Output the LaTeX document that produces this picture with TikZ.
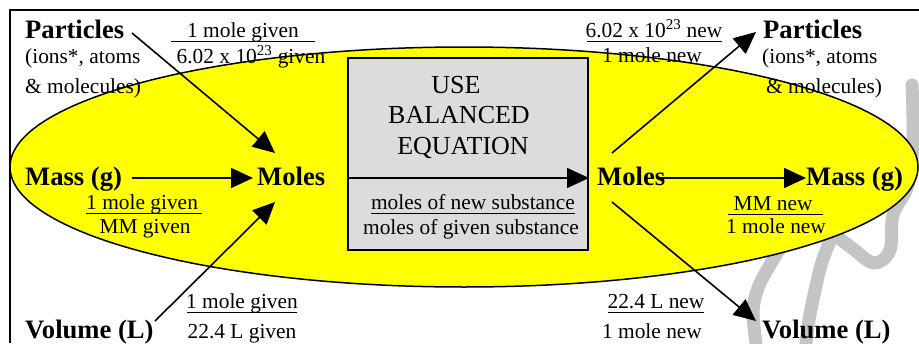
\documentclass[tikz,border=0pt]{standalone}
\usepackage{fontspec}
\setmainfont{Liberation Serif}
\usetikzlibrary{arrows.meta}
\newcommand{\ulbox}[3][c]{\makebox[#2][#1]{#3}\llap{\rule[-5pt]{#2}{1pt}}}
\definecolor{ellyellow}{HTML}{FFFF00}
\definecolor{boxgray}{HTML}{DCDCDC}
\definecolor{scribble}{HTML}{C4C4C4}
\begin{document}
\begin{tikzpicture}[x=1pt,y=-1pt,
  bt/.style={font=\fontsize{26.6}{30}\selectfont\bfseries, inner sep=0pt},
  rt/.style={font=\fontsize{21.4}{24}\selectfont, inner sep=0pt},
  bx/.style={font=\fontsize{26}{30}\selectfont, inner sep=0pt},
  arr/.style={line width=1.6pt, -{Triangle[length=22pt,width=20pt]}},
  scrib/.style={draw=scribble, line width=13pt, line cap=round, line join=round}]
\useasboundingbox (0,0) rectangle (919,343);
% background scribble
\draw[scrib] plot[smooth, tension=0.6] coordinates {(912,85) (913,140) (908,185) (893,215) (890,250) (874,263) (852,248) (836,236)};
\draw[scrib] plot[smooth, tension=0.6] coordinates {(834,232) (822,262) (814,295) (809,320) (806,343)};
\draw[scrib] plot[smooth, tension=0.6] coordinates {(782,245) (770,265) (758,288) (753,312) (756,343)};
% ellipse
\draw[fill=ellyellow, line width=1.5pt] (464,167) ellipse [x radius=454, y radius=120];
% box
\node[draw, fill=boxgray, line width=1.8pt, minimum width=240pt, minimum height=192pt, inner sep=0pt] (box) at (468,154) {};
% border
\draw[line width=2pt] (10,343) -- (10,10) -- (919,10);
% left texts
\node[bt, anchor=base west] (pL) at (25,38) {Particles};
\node[rt, anchor=base west] (pL2) at (25,63) {(ions*, atoms};
\node[rt, anchor=base west] (pL3) at (25,93) {\& molecules)};
\node[rt, anchor=base] (f1a) at (243,37) {\ulbox{144pt}{1 mole given}};
\node[rt, anchor=base] (f1b) at (251,63) {6.02 x 10\textsuperscript{23} given};
\node[bt, anchor=base west] (massL) at (25,185) {Mass (g)};
\node[bt, anchor=base west] (molL) at (257,185) {Moles};
\node[rt, anchor=base west] (f2a) at (86,209) {\ulbox[l]{116pt}{1 mole given}};
\node[rt, anchor=base] (f2b) at (145,233) {MM given};
\node[bt, anchor=base west] (volL) at (25,338) {Volume (L)};
\node[rt, anchor=base] (f3a) at (242,308) {\ulbox{110pt}{1 mole given}};
\node[rt, anchor=base] (f3b) at (242,338) {22.4 L given};
% box texts
\node[bx, anchor=base] (b1) at (456,93) {USE};
\node[bx, anchor=base] (b2) at (459,123) {BALANCED};
\node[bx, anchor=base] (b3) at (463,154) {EQUATION};
\node[rt, anchor=base] (b4) at (473,209) {\ulbox{204pt}{moles of new substance}};
\node[rt, anchor=base] (b5) at (471,234) {moles of given substance};
% right texts
\node[bt, anchor=base west] (molR) at (597,185) {Moles};
\node[bt, anchor=base west] (massR) at (806,185) {Mass (g)};
\node[rt, anchor=base] (f4a) at (775,210) {\ulbox[l]{95pt}{\hspace{6pt}MM new}};
\node[rt, anchor=base] (f4b) at (776,233) {1 mole new};
\node[rt, anchor=base] (f5a) at (654,37) {\ulbox{135pt}{6.02 x 10\textsuperscript{23} new}};
\node[rt, anchor=base] (f5b) at (652,62) {1 mole new};
\node[bt, anchor=base west] (pR) at (763,38) {Particles};
\node[rt, anchor=base west] (pR2) at (762,63) {(ions*, atoms};
\node[rt, anchor=base west] (pR3) at (766,93) {\& molecules)};
\node[rt, anchor=base] (f6a) at (656,308) {\ulbox{96pt}{22.4 L new}};
\node[rt, anchor=base] (f6b) at (652,338) {1 mole new};
\node[bt, anchor=base west] (volR) at (762,338) {Volume (L)};
% arrow end points
\coordinate (pLo) at (132,33);
\coordinate (molLi1) at (275,153);
\coordinate (massLo) at (132,178);
\coordinate (molLi2) at (253,178);
\coordinate (volLo) at (155,321);
\coordinate (molLi3) at (275,202);
\coordinate (boxL) at (348,178);
\coordinate (molRi) at (589,178);
\coordinate (molRo1) at (660,178);
\coordinate (massRi) at (806,178);
\coordinate (molRo2) at (612,153);
\coordinate (pRi) at (756,32);
\coordinate (molRo3) at (612,202);
\coordinate (volRi) at (756,321);
% arrows
\draw[arr] (pLo) -- (molLi1);
\draw[arr] (massLo) -- (molLi2);
\draw[arr] (volLo) -- (molLi3);
\draw[arr] (boxL) -- (molRi);
\draw[arr] (molRo1) -- (massRi);
\draw[arr] (molRo2) -- (pRi);
\draw[arr] (molRo3) -- (volRi);
\end{tikzpicture}
\end{document}
